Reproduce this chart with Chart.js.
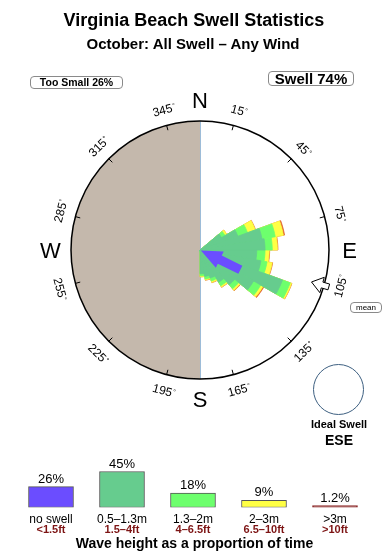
<!DOCTYPE html>
<html>
<head>
<meta charset="utf-8">
<title>Virginia Beach Swell Statistics</title>
<script src="https://cdn.jsdelivr.net/npm/chart.js@4.4.1/dist/chart.umd.min.js"></script>
<style>
  body { margin: 0; background: #fff; font-family: "Liberation Sans", Arial, sans-serif; }
  #page { position: relative; width: 390px; height: 560px; overflow: hidden; }
  canvas { position: absolute; left: 0; }
  .txt { position: absolute; white-space: nowrap; color: #000; }
  .box { position: absolute; border: 1px solid #8a8a8a; border-radius: 4px; text-align: center; color: #000; white-space: nowrap; }
</style>
</head>
<body>
<div id="page">
  <canvas id="rose" width="390" height="560" style="top:0"></canvas>
  <canvas id="bands" width="390" height="120" style="top:440px"></canvas>

  <div class="txt" style="left:0;width:388px;text-align:center;top:11px;font:bold 18px/18px 'Liberation Sans';">Virginia Beach Swell Statistics</div>
  <div class="txt" style="left:0;width:386px;text-align:center;top:36px;font:bold 15px/15px 'Liberation Sans';">October: All Swell – Any Wind</div>
  <div class="box" style="left:30px;top:76px;width:91px;height:11px;font:bold 10.5px/11px 'Liberation Sans';">Too Small 26%</div>
  <div class="box" style="left:268px;top:71px;width:84px;height:13px;font:bold 15px/13px 'Liberation Sans';">Swell 74%</div>
  <div class="box" style="left:350px;top:302px;width:30px;height:9px;font:8px/9px 'Liberation Sans';">mean</div>
  <div style="position:absolute;left:313px;top:364px;width:51px;height:51px;border:1px solid #3d5f80;border-radius:50%;box-sizing:border-box;"></div>
  <div class="txt" style="left:289px;width:100px;text-align:center;top:419px;font:bold 11px/11px 'Liberation Sans';">Ideal Swell</div>
  <div class="txt" style="left:289px;width:100px;text-align:center;top:433px;font:bold 14px/14px 'Liberation Sans';">ESE</div>
  <div class="txt" style="left:0;width:389px;text-align:center;top:536px;font:bold 14px/14px 'Liberation Sans';">Wave height as a proportion of time</div>
</div>

<script>
// Swell rose: direction bins (deg, bin centre) and % of time per height band
const dirs   = [55, 65, 75, 85, 95, 105, 115, 125, 135, 145, 155, 165, 175];
const band1  = [2.4, 3.9, 6.1, 6.3, 5.5, 6.0, 8.5, 6.0, 4.4, 3.6, 2.9, 2.6, 2.3];      // 0.5-1.3m
const band2  = [0.4, 1.0, 1.3, 0.7, 0.8, 0.6, 0.8, 0.8, 0.5, 0.4, 0.3, 0.25, 0.2];     // 1.3-2m
const band3  = [0.2, 0.8, 0.8, 0.5, 0.4, 0.5, 0.15, 0.25, 0.2, 0.15, 0.15, 0.1, 0.1];  // 2-3m
const band4  = [0, 0.03, 0.12, 0.05, 0.05, 0.05, 0.03, 0.1, 0.05, 0.03, 0.03, 0.03, 0]; // >3m
const binCount = 36;
const roseMax = 12.5;

// mean direction markers
const arrowDir = 116;   // inner arrow
const arrowLen = 4.35;
const meanDir = 106;    // outer marker

// compass labels
const degreeTicks = [15, 45, 75, 105, 135, 165, 195, 225, 255, 285, 315, 345];
const compassLetters = ['N', 'E', 'S', 'W'];
const compassAngles = [0, 90, 180, 270];

// height band legend
const bandLabels = ['no swell', '0.5–1.3m', '1.3–2m', '2–3m', '>3m'];
const feetLabels = ['<1.5ft', '1.5–4ft', '4–6.5ft', '6.5–10ft', '>10ft'];
const bandShares = [26, 45, 18, 9, 1.2];

const bandColors = ['#6b4dff', '#66cc8e', '#6dff6d', '#ffff44', '#8c2a2a'];
const bandBorders = ['#555555', '#555555', '#555555', '#555555', '#8c2a2a'];

Chart.defaults.font.family = '"Liberation Sans", Arial, sans-serif';

// spread the band values over all 36 bins, stacked (cumulative)
function binned(arr) {
  const out = [];
  for (let i = 0; i < binCount; i++) {
    const k = dirs.indexOf(5 + i * 10);
    out.push(k < 0 ? 0 : arr[k]);
  }
  return out;
}
const b1 = binned(band1), b2 = binned(band2), b3 = binned(band3), b4 = binned(band4);
const cum1 = b1;
const cum2 = cum1.map((v, i) => v + b2[i]);
const cum3 = cum2.map((v, i) => v + b3[i]);
const cum4 = cum3.map((v, i) => v + b4[i]);
const binLabels = Array.from({ length: binCount }, (_, i) => (5 + i * 10) + '°');

function petal(data, color) {
  return {
    data: data,
    backgroundColor: color,
    borderColor: color,
    borderWidth: ctx => (ctx.raw > 0 ? 0.8 : 0)
  };
}

const compassPlugin = {
  id: 'compass',
  beforeDatasetsDraw(chart) {
    const s = chart.scales.r;
    const ctx = chart.ctx;
    const cx = s.xCenter, cy = s.yCenter, R = s.drawingArea;
    ctx.save();
    ctx.fillStyle = '#ffffff';
    ctx.beginPath();
    ctx.arc(cx, cy, R, 0, Math.PI * 2);
    ctx.fill();
    ctx.fillStyle = '#c4b8ac';
    ctx.beginPath();
    ctx.moveTo(cx, cy - R);
    ctx.arc(cx, cy, R, -Math.PI / 2, Math.PI / 2, true);
    ctx.closePath();
    ctx.fill();
    ctx.strokeStyle = '#9dbcd8';
    ctx.lineWidth = 1;
    ctx.beginPath();
    ctx.moveTo(cx + 0.5, cy - R);
    ctx.lineTo(cx + 0.5, cy + R);
    ctx.stroke();
    ctx.restore();
  },
  afterDatasetsDraw(chart) {
    const s = chart.scales.r;
    const ctx = chart.ctx;
    const cx = s.xCenter, cy = s.yCenter, R = s.drawingArea;
    const pt = (deg, d) => {
      const a = deg * Math.PI / 180;
      return [cx + d * Math.sin(a), cy - d * Math.cos(a)];
    };
    // polygon in (radial, sideways) coords along a direction
    const shape = (deg, pts) => {
      const a = deg * Math.PI / 180;
      const ux = Math.sin(a), uy = -Math.cos(a);
      ctx.beginPath();
      pts.forEach(([u, v], i) => {
        const x = cx + u * ux - v * uy, y = cy + u * uy + v * ux;
        if (i === 0) ctx.moveTo(x, y); else ctx.lineTo(x, y);
      });
      ctx.closePath();
    };
    ctx.save();

    // inner arrow (purple), tip at centre
    const L = s.getDistanceFromCenterForValue(arrowLen);
    shape(arrowDir, [[1, 0], [22, -9], [22, -4.5], [L, -4.5], [L, 4.5], [22, 4.5], [22, 9]]);
    ctx.fillStyle = '#6b4dff';
    ctx.fill();

    // outer circle
    ctx.strokeStyle = '#000';
    ctx.lineWidth = 1.5;
    ctx.beginPath();
    ctx.arc(cx, cy, R, 0, Math.PI * 2);
    ctx.stroke();

    // degree ticks and labels
    ctx.lineWidth = 1;
    ctx.fillStyle = '#000';
    degreeTicks.forEach(a => {
      const [x1, y1] = pt(a, R - 5);
      const [x2, y2] = pt(a, R);
      ctx.beginPath();
      ctx.moveTo(x1, y1);
      ctx.lineTo(x2, y2);
      ctx.stroke();
      const [x, y] = pt(a, R + 16);
      const rot = ((a + 90) % 180) - 90;
      ctx.save();
      ctx.translate(x, y);
      ctx.rotate(rot * Math.PI / 180);
      ctx.font = '12px "Liberation Sans"';
      ctx.textAlign = 'center';
      ctx.textBaseline = 'alphabetic';
      const txt = String(a);
      const w = ctx.measureText(txt).width;
      ctx.fillText(txt, 0, 4.3);
      ctx.font = '7px "Liberation Sans"';
      ctx.textAlign = 'left';
      ctx.fillText('°', w / 2 + 0.5, 1);
      ctx.restore();
    });

    // compass letters
    ctx.font = '22px "Liberation Sans"';
    ctx.textAlign = 'center';
    ctx.textBaseline = 'alphabetic';
    compassLetters.forEach((l, i) => {
      const [x, y] = pt(compassAngles[i], R + 20.5);
      ctx.fillText(l, x, y + 7.9);
    });

    // mean direction marker
    shape(meanDir, [[116, 0], [127, -8], [127, -3], [134, -3], [134, 3], [127, 3], [127, 8]]);
    ctx.fillStyle = '#fff';
    ctx.fill();
    ctx.strokeStyle = '#000';
    ctx.lineWidth = 1;
    ctx.stroke();

    ctx.restore();
  }
};

new Chart(document.getElementById('rose'), {
  type: 'polarArea',
  data: {
    labels: binLabels,
    datasets: [
      petal(cum1, bandColors[1]),
      petal(cum2, bandColors[2]),
      petal(cum3, bandColors[3]),
      petal(cum4, '#e0622a')
    ]
  },
  options: {
    responsive: false,
    animation: false,
    events: [],
    layout: { padding: { left: 71, right: 61, top: 121, bottom: 181 } },
    plugins: { legend: { display: false }, tooltip: { enabled: false } },
    scales: {
      r: {
        min: 0,
        max: roseMax,
        ticks: { display: false },
        grid: { display: false },
        angleLines: { display: false },
        pointLabels: { display: false }
      }
    }
  },
  plugins: [compassPlugin]
});

const captionPlugin = {
  id: 'captions',
  afterDatasetsDraw(chart) {
    const ctx = chart.ctx;
    const meta = chart.getDatasetMeta(0);
    ctx.save();
    ctx.textAlign = 'center';
    ctx.textBaseline = 'alphabetic';
    meta.data.forEach((bar, i) => {
      ctx.fillStyle = '#000';
      ctx.font = '13px "Liberation Sans"';
      ctx.fillText(bandShares[i] + '%', bar.x, Math.min(bar.y, bar.base - 2) - 4);
      ctx.font = '12px "Liberation Sans"';
      ctx.fillText(bandLabels[i], bar.x, bar.base + 15.2);
      ctx.fillStyle = '#7d1414';
      ctx.font = 'bold 11px "Liberation Sans"';
      ctx.fillText(feetLabels[i], bar.x, bar.base + 25.5);
    });
    ctx.restore();
  }
};

new Chart(document.getElementById('bands'), {
  type: 'bar',
  data: {
    labels: bandLabels,
    datasets: [{
      data: bandShares,
      backgroundColor: bandColors,
      borderColor: bandBorders,
      borderWidth: 1,
      borderSkipped: false,
      barThickness: 45,
      minBarLength: 2
    }]
  },
  options: {
    responsive: false,
    animation: false,
    events: [],
    layout: { padding: { left: 15.5, right: 19.5, top: 27.5, bottom: 52.5 } },
    plugins: { legend: { display: false }, tooltip: { enabled: false } },
    scales: {
      x: { display: false },
      y: { display: false, min: 0, max: 50 }
    }
  },
  plugins: [captionPlugin]
});
</script>
</body>
</html>
